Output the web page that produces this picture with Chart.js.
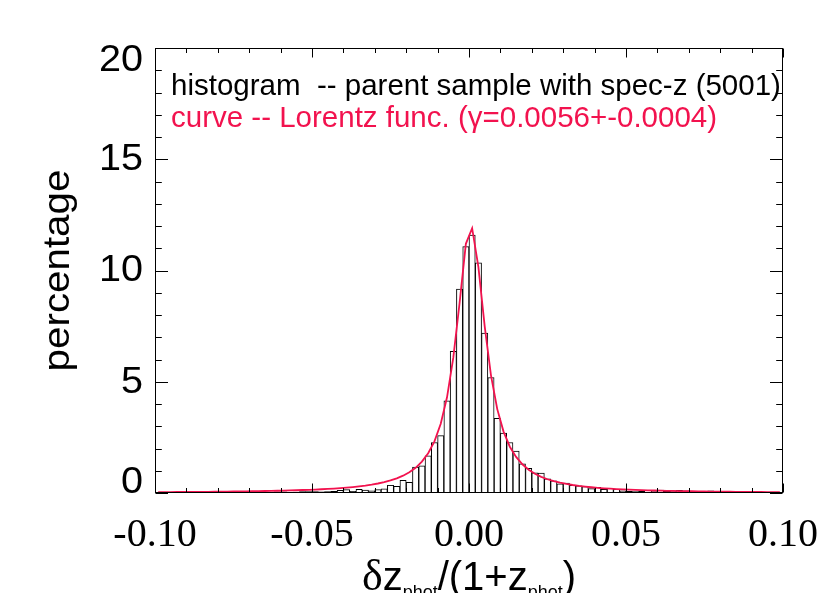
<!DOCTYPE html>
<html>
<head>
<meta charset="utf-8">
<script src="https://cdn.jsdelivr.net/npm/chart.js@4/dist/chart.umd.min.js"></script>
<style>
  html, body { margin: 0; padding: 0; background: #fff; }
  canvas { display: block; }
</style>
</head>
<body>
<canvas id="hist" width="830" height="593"></canvas>
<script>
// bin centres, bin width 0.002
const binCenters = [
  -0.099,-0.097,-0.095,-0.093,-0.091,-0.089,-0.087,-0.085,-0.083,-0.081,
  -0.079,-0.077,-0.075,-0.073,-0.071,-0.069,-0.067,-0.065,-0.063,-0.061,
  -0.059,-0.057,-0.055,-0.053,-0.051,-0.049,-0.047,-0.045,-0.043,-0.041,
  -0.039,-0.037,-0.035,-0.033,-0.031,-0.029,-0.027,-0.025,-0.023,-0.021,
  -0.019,-0.017,-0.015,-0.013,-0.011,-0.009,-0.007,-0.005,-0.003,-0.001,
  0.001,0.003,0.005,0.007,0.009,0.011,0.013,0.015,0.017,0.019,
  0.021,0.023,0.025,0.027,0.029,0.031,0.033,0.035,0.037,0.039,
  0.041,0.043,0.045,0.047,0.049,0.051,0.053,0.055,0.057,0.059,
  0.061,0.063,0.065,0.067,0.069,0.071,0.073,0.075,0.077,0.079,
  0.081,0.083,0.085,0.087,0.089,0.091,0.093,0.095,0.097,0.099
];

// histogram, percentage per bin
const histPercent = [
  0.02,0.00,0.02,0.00,0.02,0.02,0.00,0.02,0.02,0.04,
  0.02,0.02,0.04,0.02,0.04,0.04,0.04,0.03,0.03,0.05,
  0.05,0.03,0.04,0.06,0.06,0.06,0.05,0.06,0.07,0.12,
  0.15,0.08,0.17,0.13,0.10,0.15,0.19,0.35,0.30,0.57,
  0.48,1.16,1.22,1.67,2.27,2.58,4.14,6.37,9.17,11.07,
  11.59,10.35,7.19,5.19,3.36,2.69,2.27,1.88,1.31,1.11,
  0.91,0.89,0.64,0.55,0.41,0.45,0.35,0.32,0.29,0.20,
  0.26,0.17,0.21,0.17,0.10,0.07,0.06,0.07,0.03,0.10,
  0.13,0.07,0.10,0.12,0.10,0.05,0.06,0.07,0.10,0.07,
  0.03,0.02,0.03,0.02,0.02,0.02,0.01,0.02,0.01,0.01
];

// fitted Lorentz curve, sampled at the bin centres
const lorentzPercent = [
  0.039,0.041,0.042,0.044,0.046,0.048,0.050,0.053,0.055,0.058,
  0.061,0.064,0.068,0.071,0.075,0.080,0.084,0.090,0.095,0.101,
  0.108,0.116,0.124,0.134,0.144,0.156,0.169,0.184,0.201,0.220,
  0.243,0.268,0.299,0.334,0.377,0.427,0.489,0.564,0.659,0.778,
  0.932,1.134,1.41,1.785,2.32,3.11,4.30,6.08,8.54,11.2,
  11.9,10.15,7.49,5.29,3.77,2.76,2.08,1.62,1.29,1.046,
  0.865,0.727,0.618,0.532,0.463,0.406,0.359,0.319,0.286,0.258,
  0.233,0.212,0.194,0.178,0.163,0.151,0.140,0.130,0.121,0.113,
  0.105,0.099,0.093,0.087,0.082,0.078,0.074,0.070,0.066,0.063,
  0.060,0.057,0.054,0.052,0.049,0.047,0.045,0.043,0.042,0.040
];

const xTicks = [-0.10, -0.05, 0.00, 0.05, 0.10];
const xTickLabels = ["-0.10", "-0.05", "0.00", "0.05", "0.10"];
const yTicks = [0, 5, 10, 15, 20];
const yTickLabels = ["0", "5", "10", "15", "20"];

const legendLines = [
  "histogram  -- parent sample with spec-z (5001)",
  "curve -- Lorentz func. (\u03b3=0.0056+-0.0004)"
];

const RED = "#f2124e";

// IDL-style frame: inward ticks on all four sides, labels and titles
const idlFrame = {
  id: "idlFrame",
  afterDraw(chart) {
    const ctx = chart.ctx;
    const a = chart.chartArea;
    const xs = chart.scales.x, ys = chart.scales.y;
    const L = Math.round(a.left) + 0.5, R = Math.round(a.right) - 0.5;
    const T = Math.round(a.top) + 0.5, B = Math.round(a.bottom) - 0.5;
    ctx.save();
    ctx.strokeStyle = "#000";
    ctx.lineWidth = 1;
    ctx.strokeRect(L, T, R - L, B - T);

    ctx.beginPath();
    // x ticks, minor every 0.01
    for (let i = -10; i <= 10; i++) {
      const px = Math.round(xs.getPixelForValue(i / 100)) + 0.5;
      const len = (i % 5 === 0) ? 9 : 4.5;
      ctx.moveTo(px, B); ctx.lineTo(px, B - len);
      ctx.moveTo(px, T); ctx.lineTo(px, T + len);
    }
    // y ticks, minor every 1
    for (let v = 0; v <= 20; v++) {
      const py = Math.round(ys.getPixelForValue(v)) + 0.5;
      const len = (v % 5 === 0) ? 12.5 : 6.3;
      ctx.moveTo(L, py); ctx.lineTo(L + len, py);
      ctx.moveTo(R, py); ctx.lineTo(R - len, py);
    }
    ctx.stroke();

    ctx.fillStyle = "#000";
    // x tick labels
    ctx.font = '40px "Liberation Serif"';
    ctx.textAlign = "center";
    ctx.textBaseline = "alphabetic";
    xTicks.forEach((v, i) => {
      ctx.fillText(xTickLabels[i], xs.getPixelForValue(v), a.bottom + 53);
    });

    // y tick labels, kept inside the axis span like IDL does
    ctx.font = '36px "Liberation Sans"';
    ctx.textAlign = "right";
    ctx.textBaseline = "middle";
    yTicks.forEach((v, i) => {
      let py = ys.getPixelForValue(v);
      py = Math.min(Math.max(py, a.top + 12), a.bottom - 11);
      ctx.save();
      ctx.translate(a.left - 12, py + 1);
      ctx.scale(1.1, 1);
      ctx.fillText(yTickLabels[i], 0, 0);
      ctx.restore();
    });

    // y title
    ctx.save();
    ctx.translate(59, (a.top + a.bottom) / 2);
    ctx.rotate(-Math.PI / 2);
    ctx.scale(1.12, 1);
    ctx.font = '36px "Liberation Sans"';
    ctx.textAlign = "center";
    ctx.textBaseline = "middle";
    ctx.fillText("percentage", 0, 0);
    ctx.restore();

    // x title with subscripts
    const parts = [
      { t: "\u03b4", f: '44px "Liberation Serif"', dy: 0 },
      { t: "z", f: '40px "Liberation Sans"', dy: 0 },
      { t: "phot", f: '18px "Liberation Sans"', dy: 8 },
      { t: "/(1+z", f: '40px "Liberation Sans"', dy: 0 },
      { t: "phot", f: '18px "Liberation Sans"', dy: 8 },
      { t: ")", f: '40px "Liberation Sans"', dy: 0 }
    ];
    let total = 0;
    parts.forEach(p => { ctx.font = p.f; p.w = ctx.measureText(p.t).width; total += p.w; });
    let x = (a.left + a.right) / 2 - total / 2;
    ctx.textAlign = "left";
    ctx.textBaseline = "alphabetic";
    parts.forEach(p => {
      ctx.font = p.f;
      ctx.fillText(p.t, x, 590 + p.dy);
      x += p.w;
    });

    // legend text
    ctx.font = '29.5px "Liberation Sans"';
    ctx.fillStyle = "#000";
    ctx.fillText(legendLines[0], 171, 95);
    ctx.fillStyle = RED;
    ctx.fillText(legendLines[1], 171, 127);
    ctx.restore();
  }
};

const histChart = new Chart(document.getElementById("hist"), {
  type: "bar",
  data: {
    datasets: [{
      type: "line",
      label: "Lorentz",
      data: binCenters.map((x, i) => ({ x: x, y: lorentzPercent[i] })),
      borderColor: RED,
      borderWidth: 1.8,
      pointRadius: 0,
      tension: 0,
      fill: false,
      order: 0
    }, {
      type: "bar",
      label: "histogram",
      data: binCenters.map((x, i) => ({ x: x, y: histPercent[i] })),
      backgroundColor: "#fff",
      borderColor: "#000",
      borderWidth: 1,
      barPercentage: 1,
      categoryPercentage: 1,
      order: 1
    }]
  },
  options: {
    responsive: false,
    animation: false,
    layout: { padding: { top: 48, right: 47, left: 0, bottom: 0 } },
    plugins: {
      legend: { display: false },
      tooltip: { enabled: false }
    },
    scales: {
      x: {
        type: "linear",
        min: -0.1,
        max: 0.1,
        offset: false,
        grid: { display: false },
        border: { display: false },
        ticks: { display: false },
        afterFit: (s) => { s.height = 100; }
      },
      y: {
        min: 0,
        max: 20,
        grid: { display: false },
        border: { display: false },
        ticks: { display: false },
        afterFit: (s) => { s.width = 155; }
      }
    }
  },
  plugins: [idlFrame]
});
</script>
</body>
</html>
